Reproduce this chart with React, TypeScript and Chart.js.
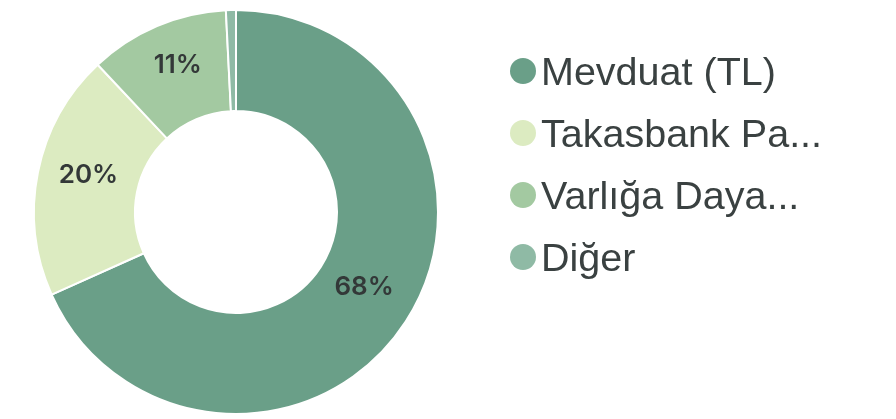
import React, { useEffect, useRef } from "react";
import { Chart, registerables } from "chart.js";

Chart.register(...registerables);

const categories = ["Mevduat (TL)", "Takasbank Pa...", "Varlığa Daya...", "Diğer"];
const shares = [68.3, 19.7, 11.2, 0.8];
const sliceColors = ["#6a9f88", "#dcebc1", "#a3c9a1", "#8fbaa5"];

const sliceLabelPlugin = {
  id: "sliceLabels",
  afterDatasetsDraw(chart: any) {
    const ctx = chart.ctx;
    const meta = chart.getDatasetMeta(0);
    const data = chart.data.datasets[0].data as number[];
    const total = data.reduce((a: number, b: number) => a + b, 0);
    ctx.save();
    ctx.font = "600 26px Inter";
    ctx.fillStyle = "#333838";
    ctx.textAlign = "center";
    ctx.textBaseline = "middle";
    meta.data.forEach((arc: any, i: number) => {
      const pct = (data[i] / total) * 100;
      if (pct < 5) return;
      const p = arc.getCenterPoint();
      ctx.fillText(Math.round(pct) + "%", p.x + 1, p.y - 7);
    });
    ctx.restore();
  },
};

export default function App() {
  const ref = useRef<HTMLCanvasElement | null>(null);

  useEffect(() => {
    if (!ref.current) return;
    const chart = new Chart(ref.current, {
      type: "doughnut",
      data: {
        labels: categories,
        datasets: [
          {
            data: shares,
            backgroundColor: sliceColors,
            borderColor: "#ffffff",
            borderWidth: 2,
          },
        ],
      },
      options: {
        responsive: false,
        animation: false,
        cutout: "50%",
        layout: { padding: { top: 9, bottom: 4, left: 33, right: 457 } },
        plugins: {
          legend: { display: false },
          tooltip: { enabled: false },
        },
      },
      plugins: [sliceLabelPlugin],
    });
    return () => chart.destroy();
  }, []);

  return (
    <div style={{ position: "absolute", left: 0, top: 0, width: 896, height: 419, overflow: "hidden", background: "#fff" }}>
      <canvas ref={ref} width={896} height={419} style={{ position: "absolute", left: 0, top: 0, width: 896, height: 419 }} />
      <div style={{ position: "absolute", left: 510, top: 40, fontFamily: "'Liberation Sans', Arial, sans-serif" }}>
        {categories.map((c, i) => (
          <div key={c} style={{ display: "flex", alignItems: "center", height: 62 }}>
            <span
              style={{
                display: "inline-block",
                width: 26,
                height: 26,
                borderRadius: "50%",
                background: sliceColors[i],
                marginRight: 5,
                flex: "none",
              }}
            />
            <span style={{ fontSize: 39.5, color: "#3a4141", whiteSpace: "nowrap", lineHeight: "normal" }}>{c}</span>
          </div>
        ))}
      </div>
    </div>
  );
}
